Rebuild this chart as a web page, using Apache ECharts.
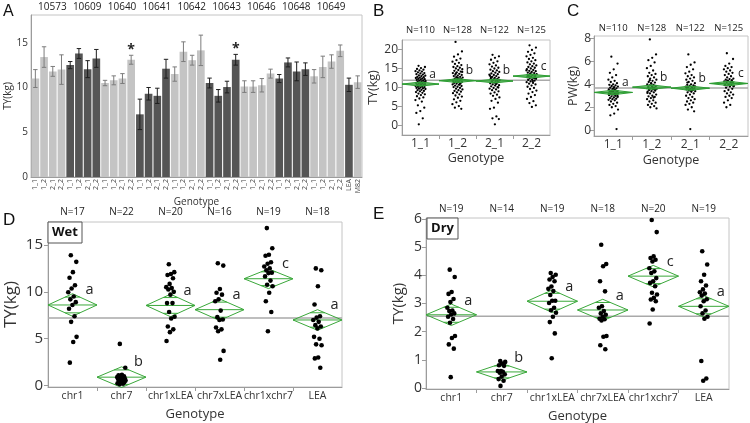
<!DOCTYPE html>
<html><head><meta charset="utf-8">
<script src="https://cdn.jsdelivr.net/npm/echarts@6/dist/echarts.min.js"></script>
<style>html,body{margin:0;padding:0;background:#fff}#c{width:750px;height:423px}</style>
</head><body><div id="c"></div>
<script>
// ---------- Panel A data ----------
const aGroups = ['10573','10609','10640','10641','10642','10643','10646','10648','10649'];
const aGenos = ['1_1','1_2','2_1','2_2'];
const aChecks = ['LEA','M82'];
const aValues = [11.0,13.4,11.8,12.0, 12.5,13.8,12.05,13.25, 10.5,10.8,11.0,13.1, 7.0,9.3,9.07,12.1,
  11.5,14.0,13.05,14.15, 10.5,9.07,10.05,13.1, 10.1,10.1,10.25,11.55, 11.0,12.8,11.8,12.05,
  11.25,12.3,12.9,14.1, 10.3,10.6];
const aErrors = [1.0,1.15,0.55,1.65, 0.4,0.55,0.95,1.0, 0.3,0.5,0.55,0.5, 1.7,0.7,0.85,1.05,
  0.8,1.1,0.55,1.7, 0.55,0.7,0.65,0.6, 0.65,0.65,0.75,0.5, 0.45,0.5,1.05,0.7,
  0.75,1.2,0.75,0.65, 0.75,0.7];
const aShade = ['L','L','L','L','D','D','D','D','L','L','L','L','D','D','D','D','L','L','L','L',
  'D','D','D','D','L','L','L','L','D','D','D','D','L','L','L','L','D','L'];
const aStars = [11, 23];

// ---------- Panel B data (TY, kg) ----------
const bGenos = ['1_1','1_2','2_1','2_2'];
const bN = ['N=110','N=128','N=122','N=125'];
const bTY11 = [15.6,15.3,15.0,14.8,14.6,14.4,14.2,14.1,13.9,13.7,13.6,13.4,13.3,13.1,13.0,12.9,12.7,12.6,12.5,12.4,12.3,12.2,12.1,12.0,11.9,11.8,11.7,11.6,11.5,11.4,11.3,11.2,11.1,11.0,10.9,10.8,10.7,10.6,10.5,10.4,10.3,10.2,10.1,10.0,9.9,9.8,9.7,9.6,9.5,9.3,9.2,9.0,8.9,8.7,8.5,8.3,8.1,7.9,7.6,7.3,7.0,6.6,6.2,5.2,4.6,3.7,3.2,1.8,0.2];
const bTY12 = [21.9,19.4,18.6,18.0,17.5,17.1,16.7,16.4,16.1,15.8,15.5,15.3,15.1,14.9,14.7,14.5,14.3,14.1,13.9,13.7,13.5,13.3,13.2,13.0,12.9,12.7,12.6,12.5,12.3,12.2,12.1,11.9,11.8,11.7,11.5,11.4,11.3,11.1,11.0,10.9,10.7,10.6,10.4,10.3,10.1,10.0,9.8,9.6,9.4,9.2,9.0,8.8,8.6,8.4,8.1,7.8,7.5,7.2,6.8,6.4,6.0,5.5,5.0,4.6,4.3,12.4,11.6,10.8,13.6,14.0];
const bTY21 = [18.5,18.1,17.7,17.2,16.8,16.4,16.0,15.7,15.4,15.1,14.9,14.6,14.4,14.2,14.0,13.8,13.6,13.4,13.2,13.0,12.9,12.7,12.5,12.4,12.2,12.1,11.9,11.8,11.6,11.5,11.3,11.2,11.0,10.9,10.7,10.5,10.4,10.2,10.0,9.8,9.6,9.4,9.2,8.9,8.6,8.3,8.0,7.7,7.3,6.9,6.4,5.9,4.6,4.3,2.3,1.8,1.6,0.2,12.6,11.7,12.0,13.3,10.8,11.4,9.9];
const bTY22 = [21.0,20.4,19.8,19.3,18.9,18.5,18.1,17.7,17.4,17.1,16.8,16.5,16.2,16.0,15.7,15.5,15.3,15.1,14.9,14.7,14.5,14.3,14.2,14.0,13.8,13.7,13.5,13.4,13.2,13.1,12.9,12.8,12.6,12.5,12.3,12.2,12.0,11.9,11.7,11.5,11.3,11.1,10.9,10.7,10.4,10.1,9.8,9.5,9.1,8.7,8.3,7.9,7.4,6.9,6.3,5.8,5.2,4.8,13.0,12.4,13.6,14.4,11.6,12.7];
const bMeans = [10.8, 11.7, 11.6, 12.9];
const bHalf = [0.55, 0.5, 0.5, 0.5];
const bGrand = 11.8;
const bLetters = ['a','b','b','c'];

// ---------- Panel C data (PW, kg) ----------
const cN = ['N=110','N=128','N=122','N=125'];
const cPW11 = [6.4,5.8,5.3,5.0,4.8,4.6,4.4,4.3,4.2,4.1,4.0,3.95,3.9,3.85,3.8,3.75,3.7,3.65,3.6,3.55,3.5,3.45,3.4,3.38,3.35,3.3,3.28,3.25,3.2,3.18,3.15,3.1,3.05,3.0,2.95,2.9,2.85,2.8,2.75,2.7,2.65,2.6,2.5,2.4,2.3,2.2,2.1,2.0,1.8,1.45,1.3,0.1,3.32,3.22,3.12,3.42,2.98,3.62];
const cPW12 = [7.9,6.6,6.3,6.1,5.9,5.6,5.4,5.2,5.0,4.9,4.8,4.7,4.6,4.5,4.4,4.3,4.2,4.15,4.1,4.0,3.95,3.9,3.85,3.8,3.75,3.7,3.65,3.6,3.55,3.5,3.45,3.4,3.35,3.3,3.2,3.1,3.0,2.95,2.9,2.8,2.7,2.6,2.5,2.4,2.3,2.2,2.1,2.0,1.9,3.72,3.62,3.52,4.05,3.25,2.85,4.35];
const cPW21 = [6.6,5.9,5.7,5.5,5.3,5.1,4.95,4.8,4.7,4.6,4.5,4.4,4.3,4.2,4.1,4.0,3.95,3.9,3.85,3.8,3.75,3.7,3.65,3.6,3.55,3.5,3.45,3.4,3.35,3.3,3.2,3.1,3.0,2.9,2.8,2.7,2.6,2.5,2.4,2.3,2.2,2.0,1.8,1.65,0.1,3.72,3.62,3.52,3.82,3.42,4.15];
const cPW22 = [6.7,6.2,5.8,5.6,5.5,5.4,5.3,5.2,5.1,5.0,4.9,4.8,4.7,4.6,4.5,4.45,4.4,4.35,4.3,4.25,4.2,4.15,4.1,4.05,4.0,3.95,3.9,3.85,3.8,3.7,3.6,3.5,3.4,3.3,3.2,3.1,3.0,2.9,2.8,2.6,2.4,2.2,2.0,4.12,4.02,3.92,4.22,4.32,3.82];
const cMeans = [3.29, 3.75, 3.66, 4.07];
const cHalf = [0.2, 0.19, 0.19, 0.19];
const cGrand = 3.68;
const cLetters = ['a','b','b','c'];

// ---------- Panel D data (Wet, TY kg) ----------
const dGenos = ['chr1','chr7','chr1xLEA','chr7xLEA','chr1xchr7','LEA'];
const dN = ['N=17','N=22','N=20','N=16','N=19','N=18'];
const dChr1 = [13.9,13.2,12.1,11.5,10.7,10.35,9.95,9.5,9.2,8.9,8.6,8.2,7.4,6.8,5.2,4.65,2.45];
const dChr7 = [4.45,1.9,1.15,1.1,1.0,0.95,0.9,0.85,0.8,0.75,0.7,0.7,0.65,0.6,0.55,0.5,0.4,0.35,0.3,0.25,0.2,0.15];
const dChr1xLEA = [12.95,12.1,11.9,11.8,11.45,10.85,10.5,10.4,10.25,10.0,9.7,8.8,8.8,7.85,7.35,7.15,6.3,6.0,5.7,4.75];
const dChr7xLEA = [13.05,12.8,10.3,9.9,9.7,9.2,9.0,8.0,7.3,7.05,7.0,6.2,6.0,5.8,3.7,2.75];
const dChr1xChr7 = [16.8,14.65,13.95,13.85,13.15,13.0,12.7,12.5,12.3,12.05,12.0,11.65,11.2,10.75,10.6,9.9,9.0,7.85,5.8];
const dLEA = [12.5,12.3,10.6,8.65,7.4,7.25,7.0,6.8,6.45,6.3,6.1,5.2,5.0,4.4,4.3,3.0,2.9,1.9];
const dMeans = [8.6, 0.9, 8.55, 8.1, 11.4, 7.0];
const dHalf = [1.2, 1.1, 1.2, 1.15, 1.05, 1.1];
const dGrand = 7.2;
const dLetters = ['a','b','a','a','c','a'];

// ---------- Panel E data (Dry, TY kg) ----------
const eN = ['N=19','N=14','N=19','N=18','N=20','N=19'];
const eChr1 = [4.2,3.94,3.41,3.34,3.16,3.05,2.85,2.75,2.73,2.65,2.61,2.53,2.45,2.32,1.85,1.78,1.55,1.4,0.39];
const eChr7 = [0.96,0.93,0.87,0.81,0.79,0.61,0.61,0.58,0.55,0.49,0.41,0.32,0.26,0.08];
const eChr1xLEA = [4.08,4.02,3.94,3.85,3.79,3.6,3.52,3.44,3.3,3.1,3.1,3.02,2.85,2.76,2.67,2.53,2.34,1.94,1.06];
const eChr7xLEA = [5.08,4.4,4.32,3.79,3.43,2.9,2.85,2.73,2.65,2.6,2.53,2.46,2.44,2.4,1.85,1.82,1.52,1.38];
const eChr1xChr7 = [5.96,5.53,4.67,4.61,4.55,4.49,4.25,4.14,4.08,3.9,3.79,3.73,3.61,3.38,3.32,3.2,3.14,3.08,2.79,2.29];
const eLEA = [4.85,4.38,4.02,3.79,3.64,3.5,3.4,3.35,3.28,3.15,3.08,2.9,2.75,2.65,2.53,2.46,0.96,0.34,0.26];
const eMeans = [2.6, 0.575, 3.08, 2.77, 3.97, 2.9];
const eHalf = [0.38, 0.3, 0.4, 0.38, 0.38, 0.38];
const eGrand = 2.55;
const eLetters = ['a','b','a','a','c','a'];

// ---------- build ----------
const F = 'Open Sans';
const TXT = '#333';
const AX = '#9c9c9c';
const BORDER = '#c4c4c4';
const aCats = [];
aGroups.forEach(() => aGenos.forEach(g => aCats.push(g)));
aChecks.forEach(c => aCats.push(c));

function jit(j, spread) { const f = (j * 0.6180339887 + 0.31) % 1; return (f - 0.5) * 2 * spread; }
function scatterData(arrs, spread) {
  const out = [];
  arrs.forEach((arr, i) => arr.forEach((v, j) => out.push([i + 0.5 + jit(j, spread), v])));
  return out;
}
function centers(n) { const r = []; for (let i = 0; i < n; i++) r.push(i + 0.5); return r; }
function bounds(n) { const r = []; for (let i = 1; i < n; i++) r.push(i); return r; }

function grandSeries(xi, yi, g, n) {
  return { type: 'custom', xAxisIndex: xi, yAxisIndex: yi, z: 1, silent: true, data: [[g]],
    renderItem(p, api) {
      const a = api.coord([0, api.value(0)]), b = api.coord([n, api.value(0)]);
      return { type: 'line', shape: { x1: a[0], y1: a[1], x2: b[0], y2: b[1] }, style: { stroke: '#a9a9a9', lineWidth: 1.5 } };
    } };
}
function diamondSeries(xi, yi, means, halves, letters, o) {
  return { type: 'custom', xAxisIndex: xi, yAxisIndex: yi, z: o.z, silent: true,
    data: means.map((m, i) => [i, m, halves[i]]),
    renderItem(params, api) {
      const i = api.value(0), m = api.value(1), h = api.value(2);
      const c = (x, y) => api.coord([x, y]);
      const L = c(i, m), R = c(i + 1, m), T = c(i + 0.5, m + h), B = c(i + 0.5, m - h);
      const k = 0.7, w = 0.5 * (1 - k);
      const u1 = c(i + 0.5 - w, m + k * h), u2 = c(i + 0.5 + w, m + k * h);
      const d1 = c(i + 0.5 - w, m - k * h), d2 = c(i + 0.5 + w, m - k * h);
      const st = { stroke: o.stroke, lineWidth: 1 };
      return { type: 'group', children: [
        { type: 'polygon', shape: { points: [L, T, R, B] }, style: { fill: o.fill, stroke: o.stroke, lineWidth: 1 } },
        { type: 'line', shape: { x1: L[0], y1: L[1], x2: R[0], y2: R[1] }, style: st },
        { type: 'line', shape: { x1: u1[0], y1: u1[1], x2: u2[0], y2: u2[1] }, style: st },
        { type: 'line', shape: { x1: d1[0], y1: d1[1], x2: d2[0], y2: d2[1] }, style: st },
        { type: 'text', z2: 10, style: { text: letters[params.dataIndex], x: T[0] + o.lx, y: L[1] + o.ly,
            fill: '#222', fontSize: o.fs, fontFamily: F, align: 'center', verticalAlign: 'middle' } }
      ] };
    } };
}
function pointSeries(xi, yi, arrs, spread, size) {
  return { type: 'scatter', xAxisIndex: xi, yAxisIndex: yi, z: 3, silent: true,
    symbolSize: size, itemStyle: { color: '#000', opacity: 1 }, data: scatterData(arrs, spread) };
}
function catX(gi, n, names, fs, margin, nameGap, nameFs) {
  return { type: 'value', gridIndex: gi, min: 0, max: n,
    axisLine: { show: true, onZero: false, lineStyle: { color: AX } },
    axisTick: { show: true, customValues: bounds(n), length: 4, lineStyle: { color: AX } },
    splitLine: { show: false },
    axisLabel: { customValues: centers(n), formatter: v => names[Math.floor(v)], fontSize: fs, color: TXT, fontFamily: F, margin: margin },
    name: 'Genotype', nameLocation: 'middle', nameGap: nameGap, nameTextStyle: { fontSize: nameFs, color: TXT, fontFamily: F } };
}
function topX(gi, n, labels, fs, margin) {
  return { type: 'value', gridIndex: gi, position: 'top', min: 0, max: n,
    axisLine: { show: false, onZero: false }, axisTick: { show: false }, splitLine: { show: false },
    axisLabel: { customValues: centers(n), formatter: v => labels[Math.floor(v)], fontSize: fs, color: '#222', fontFamily: F, margin: margin } };
}
function valY(gi, min, max, ticks, fs, margin, name, nameGap, nameFs) {
  return { type: 'value', gridIndex: gi, min: min, max: max,
    axisLine: { show: true, onZero: false, lineStyle: { color: AX } },
    axisTick: { show: true, customValues: ticks, length: 4, lineStyle: { color: AX } },
    splitLine: { show: false },
    axisLabel: { customValues: ticks, fontSize: fs, color: TXT, fontFamily: F, margin: margin },
    name: name, nameLocation: 'middle', nameGap: nameGap, nameTextStyle: { fontSize: nameFs, color: TXT, fontFamily: F } };
}
const gridBase = { show: true, borderColor: BORDER, borderWidth: 1, backgroundColor: 'transparent', containLabel: false, outerBoundsMode: 'none' };

const option = {
  animation: false,
  backgroundColor: '#fff',
  grid: [
    Object.assign({ left: 31, top: 15, width: 331, height: 162 }, gridBase),
    Object.assign({ left: 402, top: 40, width: 148, height: 95 }, gridBase),
    Object.assign({ left: 594, top: 36, width: 154, height: 100 }, gridBase),
    Object.assign({ left: 48, top: 222, width: 294, height: 165 }, gridBase),
    Object.assign({ left: 426, top: 218, width: 303, height: 171 }, gridBase)
  ],
  xAxis: [
    { type: 'category', gridIndex: 0, data: aCats,
      axisLine: { show: true, onZero: false, lineStyle: { color: AX } }, axisTick: { show: false },
      axisLabel: { rotate: 90, fontSize: 7, color: '#444', interval: 0, margin: 2, fontFamily: F },
      name: 'Genotype', nameLocation: 'middle', nameGap: 19, nameTextStyle: { fontSize: 10, color: TXT, fontFamily: F } },
    { type: 'value', gridIndex: 0, position: 'top', min: 0, max: aCats.length,
      axisLine: { show: false, onZero: false }, axisTick: { show: false }, splitLine: { show: false },
      axisLabel: { customValues: aGroups.map((g, i) => 4 * i + 2.45), formatter: v => aGroups[Math.round((v - 2.45) / 4)],
        fontSize: 10, color: '#222', fontFamily: F, margin: 3 } },
    catX(1, 4, bGenos, 12, 3, 17, 12.5),
    topX(1, 4, bN, 9.5, 5),
    catX(2, 4, bGenos, 12, 3, 18, 12.5),
    topX(2, 4, cN, 9.5, 3),
    catX(3, 6, dGenos, 10.5, 4, 21, 13),
    topX(3, 6, dN, 10, 5),
    catX(4, 6, dGenos, 10.5, 4, 21, 13),
    topX(4, 6, eN, 10, 4)
  ],
  yAxis: [
    Object.assign(valY(0, 0, 18.1, [0, 5, 10, 15], 10, 3, 'TY(kg)', 16, 10), { axisTick: { show: false } }),
    valY(1, -2.6, 22.4, [0, 5, 10, 15, 20], 12, 4, 'TY(kg)', 15, 12.5),
    valY(2, -0.5, 8.2, [0, 2, 4, 6, 8], 12, 3, 'PW(kg)', 11, 12.5),
    valY(3, -0.15, 17.45, [0, 5, 10, 15], 15, 5, 'TY(kg)', 28, 17),
    valY(4, -0.03, 6.03, [0, 1, 2, 3, 4, 5, 6], 14, 4, 'TY(kg)', 20, 15)
  ],
  series: [
    { type: 'bar', xAxisIndex: 0, yAxisIndex: 0, barWidth: '88%', silent: true,
      data: aValues.map((v, i) => ({ value: v, itemStyle: { color: aShade[i] === 'D' ? '#555555' : '#c4c4c4' } })) },
    { type: 'custom', xAxisIndex: 0, yAxisIndex: 0, z: 4, silent: true,
      data: aValues.map((v, i) => [i, v, aErrors[i], aStars.indexOf(i) >= 0 ? 1 : 0, aShade[i] === 'D' ? 1 : 0]),
      renderItem(p, api) {
        const i = api.value(0), v = api.value(1), e = api.value(2);
        const t = api.coord([i, v + e]), b = api.coord([i, v - e]);
        const col = api.value(4) ? '#1e1e1e' : '#7c7c7c';
        const cw = 2.2, st = { stroke: col, lineWidth: 1 };
        const ch = [
          { type: 'line', shape: { x1: t[0], y1: t[1], x2: b[0], y2: b[1] }, style: st },
          { type: 'line', shape: { x1: t[0] - cw, y1: t[1], x2: t[0] + cw, y2: t[1] }, style: st },
          { type: 'line', shape: { x1: b[0] - cw, y1: b[1], x2: b[0] + cw, y2: b[1] }, style: st }
        ];
        if (api.value(3)) ch.push({ type: 'text', style: { text: '*', x: t[0], y: t[1] - 5, fill: '#222',
          fontSize: 14, fontWeight: 'bold', fontFamily: F, align: 'center', verticalAlign: 'middle' } });
        return { type: 'group', children: ch };
      } },
    // B
    grandSeries(2, 1, bGrand, 4),
    pointSeries(2, 1, [bTY11, bTY12, bTY21, bTY22], 0.14, 2.3),
    diamondSeries(2, 1, bMeans, bHalf, bLetters, { z: 5, fill: 'rgba(70,180,70,0.55)', stroke: '#2f9e35', lx: 12, ly: -10, fs: 12 }),
    // C
    grandSeries(4, 2, cGrand, 4),
    pointSeries(4, 2, [cPW11, cPW12, cPW21, cPW22], 0.13, 2.3),
    diamondSeries(4, 2, cMeans, cHalf, cLetters, { z: 5, fill: 'rgba(70,180,70,0.55)', stroke: '#2f9e35', lx: 12, ly: -10, fs: 12 }),
    // D
    grandSeries(6, 3, dGrand, 6),
    diamondSeries(6, 3, dMeans, dHalf, dLetters, { z: 2, fill: 'none', stroke: '#3aa83a', lx: 17, ly: -15, fs: 14.5 }),
    pointSeries(6, 3, [dChr1, dChr7, dChr1xLEA, dChr7xLEA, dChr1xChr7, dLEA], 0.09, 4.6),
    // E
    grandSeries(8, 4, eGrand, 6),
    diamondSeries(8, 4, eMeans, eHalf, eLetters, { z: 2, fill: 'none', stroke: '#3aa83a', lx: 17, ly: -14, fs: 14.5 }),
    pointSeries(8, 4, [eChr1, eChr7, eChr1xLEA, eChr7xLEA, eChr1xChr7, eLEA], 0.08, 4.6)
  ],
  graphic: [
    { type: 'text', x: 3, y: 4, z: 100, style: { text: 'A', fontSize: 16, fontFamily: 'Liberation Sans', fill: '#111' } },
    { type: 'text', x: 373, y: 3, z: 100, style: { text: 'B', fontSize: 17, fontFamily: 'Liberation Sans', fill: '#111' } },
    { type: 'text', x: 567, y: 3, z: 100, style: { text: 'C', fontSize: 17, fontFamily: 'Liberation Sans', fill: '#111' } },
    { type: 'text', x: 3, y: 212, z: 100, style: { text: 'D', fontSize: 17, fontFamily: 'Liberation Sans', fill: '#111' } },
    { type: 'text', x: 373, y: 206, z: 100, style: { text: 'E', fontSize: 17, fontFamily: 'Liberation Sans', fill: '#111' } },
    { type: 'rect', z: 100, shape: { x: 48, y: 222, width: 34, height: 21 }, style: { fill: '#fff', stroke: '#555', lineWidth: 1 } },
    { type: 'text', z: 101, x: 65, y: 232.5, style: { text: 'Wet', fontSize: 13, fontWeight: 'bold', fontFamily: F, fill: '#111', align: 'center', verticalAlign: 'middle' } },
    { type: 'rect', z: 100, shape: { x: 427, y: 218, width: 31, height: 21 }, style: { fill: '#fff', stroke: '#555', lineWidth: 1 } },
    { type: 'text', z: 101, x: 442.5, y: 228.5, style: { text: 'Dry', fontSize: 13, fontWeight: 'bold', fontFamily: F, fill: '#111', align: 'center', verticalAlign: 'middle' } }
  ]
};
const chart = echarts.init(document.getElementById('c'), null, { renderer: 'canvas', width: 750, height: 423 });
chart.setOption(option);
</script>
</body></html>
